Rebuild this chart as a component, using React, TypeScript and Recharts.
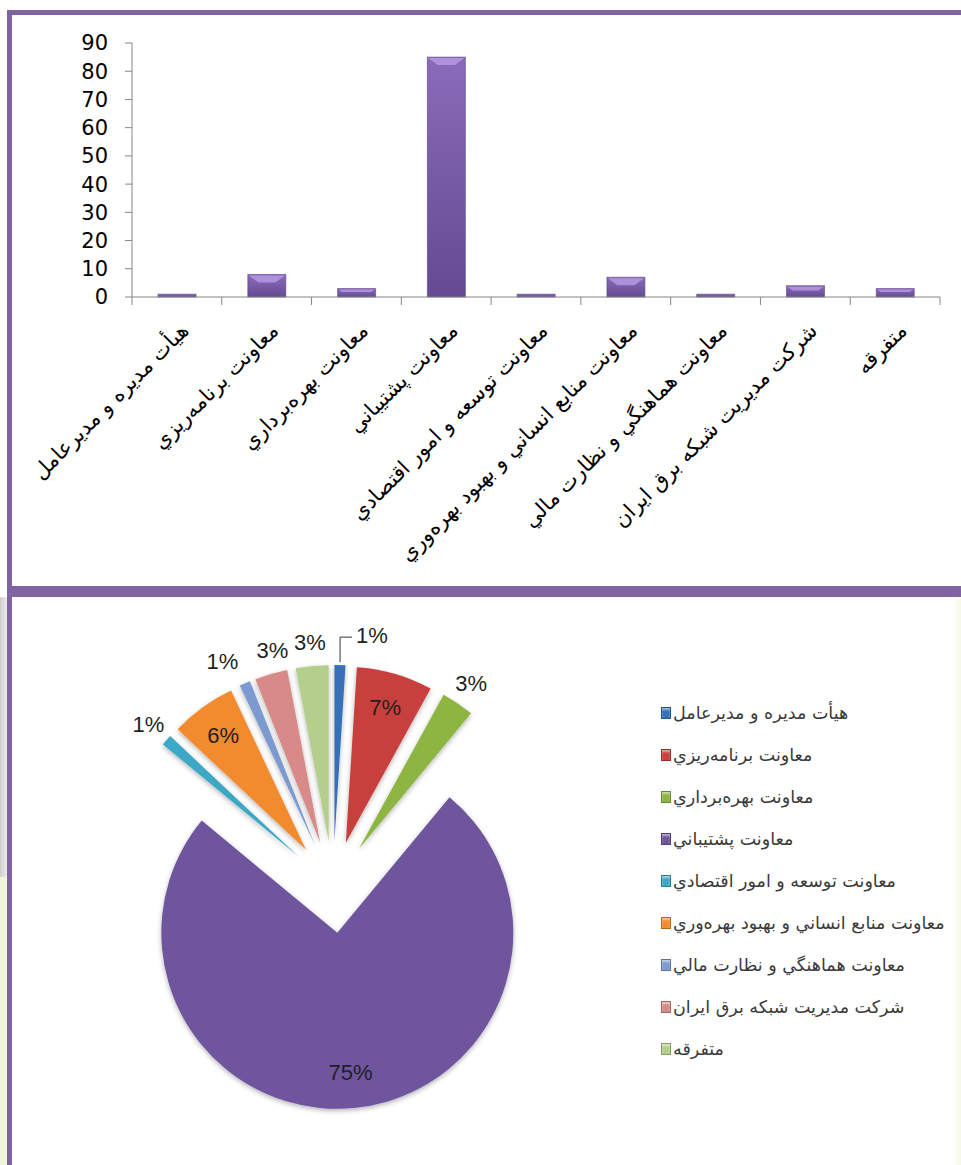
import React from 'react';
import { BarChart, Bar, XAxis, YAxis, PieChart, Pie, Cell, Sector, Legend, Tooltip } from 'recharts';

const categories = [
  'هیأت مدیره و مدیرعامل',
  'معاونت برنامه‌ریزي',
  'معاونت بهره‌برداري',
  'معاونت پشتيباني',
  'معاونت توسعه و امور اقتصادي',
  'معاونت منابع انساني و بهبود بهره‌وري',
  'معاونت هماهنگي و نظارت مالي',
  'شرکت مديريت شبکه برق ايران',
  'متفرقه',
];
// bar heights (counts) and pie labels (percent shares)
const counts = [1, 8, 3, 85, 1, 7, 1, 4, 3];
const shares = [1, 7, 3, 75, 1, 6, 1, 3, 3];
const yTicks = [0, 10, 20, 30, 40, 50, 60, 70, 80, 90];
const sliceColors = ['#3470B8', '#C8413D', '#8CB543', '#6E559E', '#3DA7C6', '#F18B2E', '#7D9AD0', '#D88A89', '#B3CF8B'];

const barData = categories.map((name, i) => ({ name, count: counts[i] }));
const pieData = categories.map((name, i) => ({ name, share: shares[i] }));

const FRAME = '#8064A2';
const AXIS = '#868686';
const RAD = Math.PI / 180;
const EXPLODE = 46;

const BevelBar = (props: any) => {
  const { x, y, width, height } = props;
  if (!height || height <= 0) return null;
  const b = Math.min(8, height * 0.42);
  const inset = Math.min(width * 0.3, b * 1.3);
  return (
    <g>
      <rect x={x} y={y} width={width} height={height} fill="url(#barGrad)" stroke="#5B4384" strokeOpacity={0.6} />
      <polygon
        points={`${x + 1},${y + 1} ${x + width - 1},${y + 1} ${x + width - inset},${y + b} ${x + inset},${y + b}`}
        fill="#B49AE2"
        opacity={0.85}
      />
    </g>
  );
};

const CatTick = (props: any) => {
  const { x, y, payload } = props;
  const half = payload.offset || 0;
  const isLast = payload.index === categories.length - 1;
  const ax = x + 13;
  const ay = y + 35;
  return (
    <g>
      <line x1={x - half} x2={x - half} y1={y} y2={y + 8} stroke={AXIS} />
      {isLast && <line x1={x + half} x2={x + half} y1={y} y2={y + 8} stroke={AXIS} />}
      <text
        x={ax}
        y={ay}
        transform={`rotate(-45 ${ax} ${ay})`}
        textAnchor="end"
        fill="#000"
        fontSize={21}
        fontFamily="DejaVu Sans"
      >
        {payload.value}
      </text>
    </g>
  );
};

const shift = (midAngle: number) => ({
  dx: EXPLODE * Math.cos(-midAngle * RAD),
  dy: EXPLODE * Math.sin(-midAngle * RAD),
});

const ExplodedSector = (props: any) => {
  const { cx, cy, midAngle, innerRadius, outerRadius, startAngle, endAngle, fill } = props;
  const { dx, dy } = shift(midAngle);
  return (
    <Sector
      cx={cx + dx}
      cy={cy + dy}
      innerRadius={innerRadius}
      outerRadius={outerRadius}
      startAngle={startAngle}
      endAngle={endAngle}
      fill={fill}
      stroke="none"
      filter="url(#pieShadow)"
    />
  );
};

const PieLabel = (props: any) => {
  const { cx, cy, midAngle, outerRadius, percent, index } = props;
  const { dx, dy } = shift(midAngle);
  const ox = cx + dx;
  const oy = cy + dy;
  const at = (r: number) => [ox + r * Math.cos(-midAngle * RAD), oy + r * Math.sin(-midAngle * RAD)];
  const txt = `${Math.round(percent * 100)}%`;
  const style = { fontFamily: 'Liberation Sans', fontSize: 22, fill: '#1f1f1f' };
  if (index === 0) {
    const [sx, sy] = at(outerRadius + 3);
    return (
      <g>
        <polyline points={`${sx},${sy} ${sx},${sy - 25} ${sx + 12},${sy - 25}`} fill="none" stroke="#333" />
        <text x={sx + 16} y={sy - 27} dominantBaseline="central" {...style}>
          {txt}
        </text>
      </g>
    );
  }
  const [lx, ly] = percent >= 0.05 ? at(outerRadius * 0.8) : at(outerRadius + 24);
  // crowded small labels on the upper left are spread apart a little
  const nudge = index === 6 ? -13 : index === 7 ? 8 : 0;
  return (
    <text x={lx + nudge} y={ly} textAnchor="middle" dominantBaseline="central" {...style}>
      {txt}
    </text>
  );
};

const LegendList = () => (
  <div style={{ fontFamily: 'DejaVu Sans', fontSize: 17.5, color: '#3a3a3a' }}>
    {categories.map((name, i) => (
      <div key={name} style={{ height: 42, display: 'flex', alignItems: 'center' }}>
        <span
          style={{
            display: 'inline-block',
            width: 8,
            height: 10,
            marginRight: 2,
            background: sliceColors[i],
            border: '1px solid rgba(0,0,0,0.25)',
            boxShadow: 'inset 0 2px 2px rgba(255,255,255,0.5)',
          }}
        />
        <span dir="rtl">{name}</span>
      </div>
    ))}
  </div>
);

export default function App() {
  return (
    <div style={{ position: 'absolute', left: 0, top: 0, width: 961, height: 1165, background: '#fff', overflow: 'hidden' }}>
      <svg width={0} height={0} style={{ position: 'absolute' }}>
        <defs>
          <linearGradient id="barGrad" x1="0" y1="0" x2="0" y2="1">
            <stop offset="0%" stopColor="#8A6BBA" />
            <stop offset="100%" stopColor="#654A92" />
          </linearGradient>
          <filter id="pieShadow" x="-20%" y="-20%" width="140%" height="140%">
            <feDropShadow dx="0" dy="2" stdDeviation="2.5" floodColor="#000" floodOpacity="0.3" />
          </filter>
        </defs>
      </svg>

      {/* frames */}
      <div
        style={{
          position: 'absolute', left: 7, top: 10, width: 1000, height: 587, boxSizing: 'border-box',
          borderTop: `5px solid ${FRAME}`, borderLeft: `5px solid ${FRAME}`, borderBottom: `11px solid ${FRAME}`,
        }}
      />
      <div style={{ position: 'absolute', left: 0, top: 597, width: 7, height: 280, background: 'linear-gradient(to right, #cfcfcf, #ececec)' }} />
      <div style={{ position: 'absolute', left: 0, top: 877, width: 7, height: 288, background: '#F1F7DA' }} />
      <div style={{ position: 'absolute', left: 7, top: 597, width: 5, height: 568, background: FRAME }} />
      <div style={{ position: 'absolute', left: 953, top: 597, width: 8, height: 568, background: 'linear-gradient(to right, #fff, #F6F9E4)' }} />

      <div style={{ position: 'absolute', left: 0, top: 0 }}>
        <BarChart width={961} height={586} data={barData} margin={{ top: 43, right: 21, bottom: 9, left: 0 }} barCategoryGap="29%">
          <XAxis
            dataKey="name"
            interval={0}
            height={280}
            tickLine={false}
            tickSize={0}
            tickMargin={0}
            axisLine={{ stroke: AXIS }}
            tick={<CatTick />}
          />
          <YAxis
            width={132}
            domain={[0, 90]}
            ticks={yTicks}
            interval={0}
            tickSize={7}
            tickMargin={17}
            axisLine={{ stroke: AXIS }}
            tickLine={{ stroke: AXIS }}
            tick={{ fill: '#000', fontSize: 21, fontFamily: 'DejaVu Sans' }}
          />
          <Bar dataKey="count" shape={<BevelBar />} isAnimationActive={false} />
        </BarChart>
      </div>

      <div style={{ position: 'absolute', left: 0, top: 597 }}>
        <PieChart width={961} height={568}>
          <Pie
            data={pieData}
            dataKey="share"
            nameKey="name"
            cx={328}
            cy={285}
            outerRadius={176}
            startAngle={90}
            endAngle={-270}
            stroke="none"
            isAnimationActive={false}
            shape={ExplodedSector}
            activeShape={ExplodedSector}
            inactiveShape={ExplodedSector}
            label={PieLabel}
            labelLine={false}
          >
            {pieData.map((d, i) => (
              <Cell key={d.name} fill={sliceColors[i]} />
            ))}
          </Pie>
          <Tooltip defaultIndex={0} content={() => null} cursor={false} />
          <Legend
            layout="vertical"
            align="right"
            verticalAlign="top"
            wrapperStyle={{ left: 661, top: 95, width: 300 }}
            content={() => <LegendList />}
          />
        </PieChart>
      </div>
    </div>
  );
}
